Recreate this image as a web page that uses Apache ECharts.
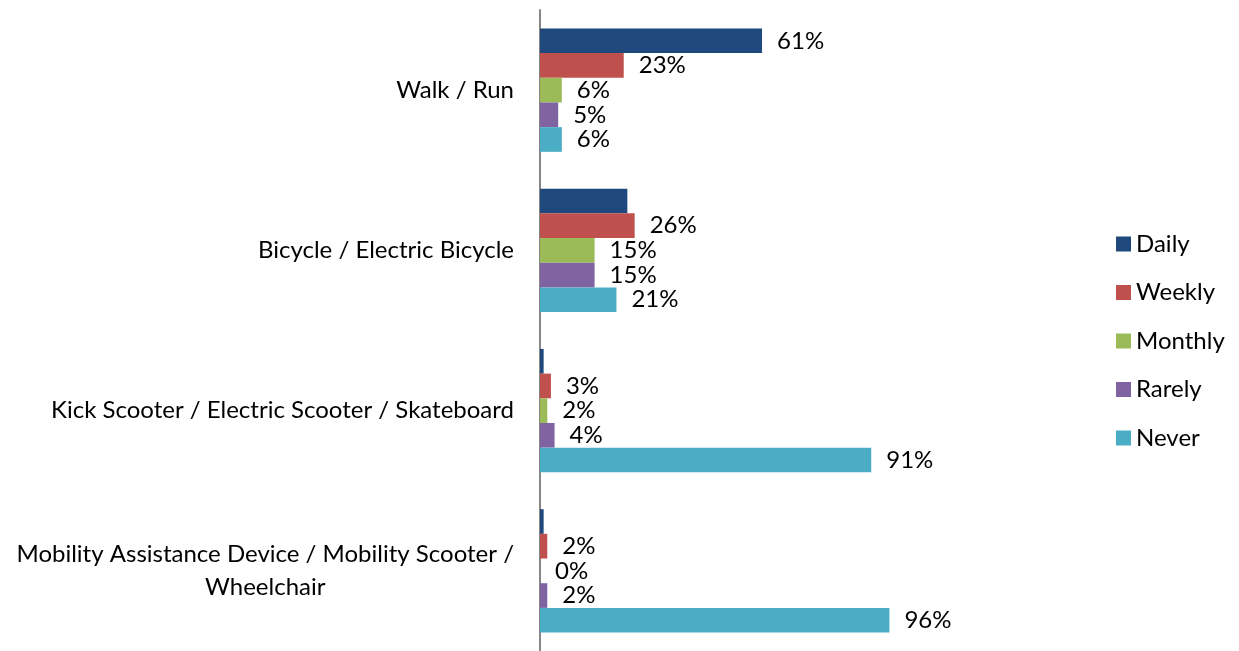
<!DOCTYPE html>
<html lang="en">
<head>
  <meta charset="utf-8">
  <title>Mobility usage frequency</title>
  <script src="https://cdn.jsdelivr.net/npm/echarts@6/dist/echarts.min.js"></script>
  <style type="text/css">
    html, body { margin: 0; padding: 0; background: #fff; }
    #chart { width: 1239px; height: 651px; }
  </style>
</head>
<body>
<div id="chart"></div>
<script type="text/javascript">
  // categories top to bottom
  let categories = [
    'Walk / Run',
    'Bicycle / Electric Bicycle',
    'Kick Scooter / Electric Scooter / Skateboard',
    'Mobility Assistance Device / Mobility Scooter /\nWheelchair'
  ];
  let seriesNames = ['Daily', 'Weekly', 'Monthly', 'Rarely', 'Never'];
  let daily   = [61, 24, 1, 1];
  let weekly  = [23, 26, 3, 2];
  let monthly = [6, 15, 2, 0];
  let rarely  = [5, 15, 4, 2];
  let never   = [6, 21, 91, 96];
  // the source chart shows no label on these Daily bars
  let hiddenDailyLabels = [1, 2, 3];

  let colors = ['#1F497D', '#C0504D', '#9BBB59', '#8064A2', '#4BACC6'];
  let values = [daily, weekly, monthly, rarely, never];
  let font = 'Lato';
  let fontSize = 24;

  let myChart = echarts.init(document.getElementById('chart'));

  let series = seriesNames.map(function (name, i) {
    return {
      name: name,
      type: 'bar',
      barGap: 0,
      barCategoryGap: '23%',
      itemStyle: { color: colors[i] },
      label: {
        show: true,
        position: 'right',
        distance: 15,
        formatter: '{c}%',
        color: '#000',
        fontFamily: font,
        fontSize: fontSize
      },
      data: values[i].map(function (v, j) {
        if (i === 0 && hiddenDailyLabels.indexOf(j) >= 0) {
          return { value: v, label: { show: false } };
        }
        return v;
      })
    };
  });

  let option = {
    animation: false,
    color: colors,
    legend: {
      orient: 'vertical',
      left: 1111,
      top: 227,
      itemWidth: 15,
      itemHeight: 15,
      itemGap: 24.5,
      icon: 'rect',
      textStyle: { fontFamily: font, fontSize: fontSize, color: '#000', lineHeight: 24 },
      data: seriesNames
    },
    grid: { left: 540, top: 10, width: 364, bottom: 0, containLabel: false },
    xAxis: {
      type: 'value',
      min: 0,
      max: 100,
      show: false
    },
    yAxis: {
      type: 'category',
      inverse: true,
      data: categories,
      axisLine: { lineStyle: { color: '#868686', width: 2 } },
      axisTick: { length: 6, lineStyle: { color: '#868686', width: 1.5 } },
      axisLabel: {
        margin: 26,
        color: '#000',
        fontFamily: font,
        fontSize: fontSize,
        formatter: function (val) {
          return val.split('\n').map(function (s) { return '{c|' + s + '}'; }).join('\n');
        },
        rich: {
          c: { align: 'center', fontFamily: font, fontSize: fontSize, color: '#000', lineHeight: 33 }
        }
      }
    },
    series: series
  };

  myChart.setOption(option);
</script>
</body>
</html>
